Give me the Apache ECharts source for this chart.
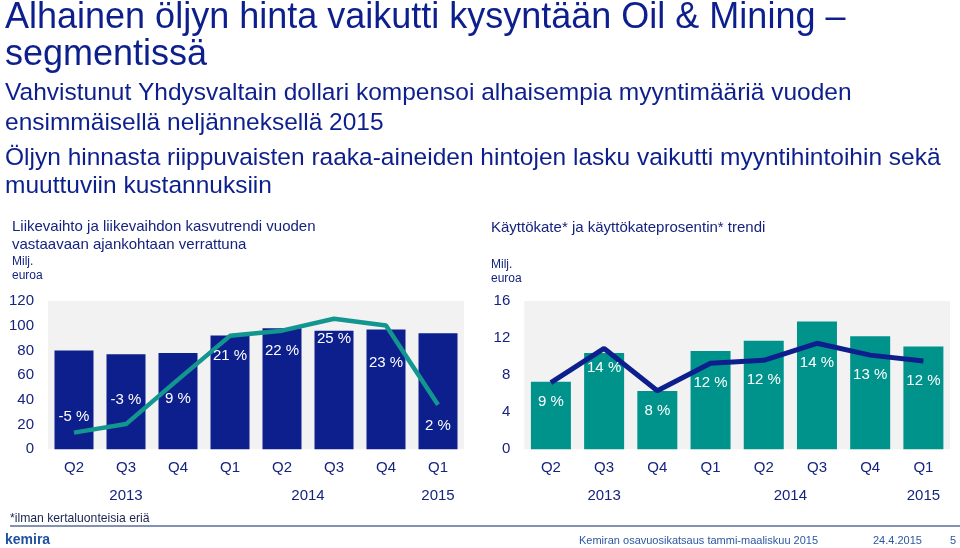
<!DOCTYPE html>
<html>
<head>
<meta charset="utf-8">
<script src="https://cdn.jsdelivr.net/npm/echarts@6/dist/echarts.min.js"></script>
<style>
html,body{margin:0;padding:0;background:#fff;}
#chart{width:960px;height:548px;}
</style>
</head>
<body>
<div id="chart"></div>
<script>
// ---- data ----
const quarters = ['Q2', 'Q3', 'Q4', 'Q1', 'Q2', 'Q3', 'Q4', 'Q1'];
const yearLabels = ['2013', '2014', '2015'];
const yearSpans = [[1, 1], [3, 6], [7, 7]]; // first/last quarter index each year label is centred under
const revenueTicks = [0, 120, 20];   // min, max, step (Milj. euroa)
const ebitdaTicks = [0, 16, 4];
const revenue = [80, 77, 78, 92, 98, 96, 97, 94];
const revenueGrowth = [-5.5, -3.2, 8.8, 20.6, 22.0, 25.2, 23.4, 2.0];
const revenueGrowthLabels = ['-5 %', '-3 %', '9 %', '21 %', '22 %', '25 %', '23 %', '2 %'];
const ebitda = [7.3, 10.4, 6.3, 10.6, 11.7, 13.8, 12.2, 11.1];
const ebitdaMargin = [9.0, 13.6, 7.9, 11.6, 12.0, 14.3, 12.7, 11.9];
const ebitdaMarginLabels = ['9 %', '14 %', '8 %', '12 %', '12 %', '14 %', '13 %', '12 %'];

// ---- styling ----
const NAVY = '#0d1f8c';
const TEAL = '#12968f';
const TEXT = '#16237e';
const FONT = '"Liberation Sans", Arial, Helvetica, sans-serif';
const leftLabelPos = ['top', 'top', 'bottom', 'bottom', 'bottom', 'bottom', 'bottom', 'bottom'];
const leftLabelDist = [8, 16, 12, 12, 12, 12, 30, 13];

const chart = echarts.init(document.getElementById('chart'), null, {renderer: 'canvas'});

function yearFormatter(v) {
  for (let i = 0; i < yearSpans.length; i++) {
    const c = (yearSpans[i][0] + yearSpans[i][1]) / 2 + 0.5;
    if (Math.abs(v - c) < 1e-6) return yearLabels[i];
  }
  return '';
}

function catAxis(grid) {
  return {
    type: 'category', gridIndex: grid, data: quarters,
    axisLine: {show: false}, axisTick: {show: false},
    axisLabel: {fontSize: 15, color: TEXT, margin: 11, fontFamily: FONT},
    splitLine: {show: false}
  };
}
function yearAxis(grid) {
  return {
    type: 'value', gridIndex: grid, min: 0, max: quarters.length, interval: 0.5,
    position: 'bottom', offset: 28,
    axisLine: {show: false}, axisTick: {show: false}, splitLine: {show: false},
    axisLabel: {fontSize: 15, color: TEXT, margin: 11, fontFamily: FONT, formatter: yearFormatter,
      showMinLabel: true, showMaxLabel: true}
  };
}
function valAxis(grid, t, show) {
  return {
    type: 'value', gridIndex: grid, min: t[0], max: t[1], interval: t[2], show: show !== false,
    axisLine: {show: false}, axisTick: {show: false}, splitLine: {show: false},
    axisLabel: {fontSize: 15, color: TEXT, margin: 14, fontFamily: FONT}
  };
}

const textEls = [
  {x: 5, y: 18, text: 'Alhainen öljyn hinta vaikutti kysyntään Oil & Mining –', size: 36, color: NAVY},
  {x: 5, y: 55, text: 'segmentissä', size: 36, color: NAVY},
  {x: 5, y: 93.5, text: 'Vahvistunut Yhdysvaltain dollari kompensoi alhaisempia myyntimääriä vuoden', size: 24.5, color: NAVY},
  {x: 5, y: 123, text: 'ensimmäisellä neljänneksellä 2015', size: 24.5, color: NAVY},
  {x: 5, y: 158, text: 'Öljyn hinnasta riippuvaisten raaka-aineiden hintojen lasku vaikutti myyntihintoihin sekä', size: 24.5, color: NAVY},
  {x: 5, y: 186.5, text: 'muuttuviin kustannuksiin', size: 24.5, color: NAVY},
  {x: 12, y: 227, text: 'Liikevaihto ja liikevaihdon kasvutrendi vuoden', size: 15, color: TEXT},
  {x: 12, y: 245, text: 'vastaavaan ajankohtaan verrattuna', size: 15, color: TEXT},
  {x: 12, y: 262, text: 'Milj.', size: 12, color: TEXT},
  {x: 12, y: 276, text: 'euroa', size: 12, color: TEXT},
  {x: 491, y: 228, text: 'Käyttökate* ja käyttökateprosentin* trendi', size: 15, color: TEXT},
  {x: 491, y: 265, text: 'Milj.', size: 12, color: TEXT},
  {x: 491, y: 279, text: 'euroa', size: 12, color: TEXT},
  {x: 10, y: 519, text: '*ilman kertaluonteisia eriä', size: 12.2, color: '#1c2450'},
  {x: 579, y: 540.5, text: 'Kemiran osavuosikatsaus tammi-maaliskuu 2015', size: 11, color: '#2c57a3'},
  {x: 873, y: 540.5, text: '24.4.2015', size: 11, color: '#2c57a3'},
  {x: 950, y: 540.5, text: '5', size: 11, color: '#2c57a3'}
];

const graphic = textEls.map(t => ({
  type: 'text', x: t.x, y: t.y, silent: true,
  style: {text: t.text, fill: t.color, font: t.size + 'px ' + FONT, verticalAlign: 'middle'}
}));
graphic.push({
  type: 'line', silent: true,
  shape: {x1: 10, y1: 526, x2: 960, y2: 526},
  style: {stroke: '#5a6d98', lineWidth: 1.5}
});
graphic.push({
  type: 'text', x: 5, y: 540.5, silent: true,
  style: {text: 'kemira', fill: '#1f50a3', font: 'bold 14px ' + FONT, verticalAlign: 'middle'}
});

const option = {
  backgroundColor: '#ffffff',
  animation: false,
  textStyle: {fontFamily: FONT},
  graphic: graphic,
  grid: [
    {left: 48, right: 496, top: 301, bottom: 98.7, show: true, backgroundColor: '#f2f2f2', borderWidth: 0},
    {left: 524.3, right: 10, top: 301, bottom: 98.7, show: true, backgroundColor: '#f2f2f2', borderWidth: 0}
  ],
  xAxis: [catAxis(0), yearAxis(0), catAxis(1), yearAxis(1)],
  yAxis: [
    valAxis(0, revenueTicks),
    valAxis(0, [-10, 30, 10], false),
    valAxis(1, ebitdaTicks),
    valAxis(1, [0, 20, 5], false)
  ],
  series: [
    {
      type: 'bar', xAxisIndex: 0, yAxisIndex: 0, data: revenue, barWidth: 39,
      itemStyle: {color: NAVY}, z: 2
    },
    {
      type: 'line', xAxisIndex: 0, yAxisIndex: 1, z: 3,
      data: revenueGrowth.map((v, i) => ({value: v, label: {position: leftLabelPos[i], distance: leftLabelDist[i]}})),
      symbol: 'circle', symbolSize: 0.5, showSymbol: true,
      itemStyle: {color: TEAL},
      lineStyle: {color: TEAL, width: 4.5},
      label: {show: true, color: '#ffffff', fontSize: 15, fontFamily: FONT,
        formatter: p => revenueGrowthLabels[p.dataIndex]}
    },
    {
      type: 'bar', xAxisIndex: 2, yAxisIndex: 2, data: ebitda, barWidth: 40,
      itemStyle: {color: '#00938c'}, z: 2
    },
    {
      type: 'line', xAxisIndex: 2, yAxisIndex: 3, z: 3,
      data: ebitdaMargin,
      symbol: 'circle', symbolSize: 0.5, showSymbol: true,
      itemStyle: {color: NAVY},
      lineStyle: {color: NAVY, width: 5},
      label: {show: true, position: 'bottom', distance: 12, color: '#ffffff', fontSize: 15, fontFamily: FONT,
        formatter: p => ebitdaMarginLabels[p.dataIndex]}
    }
  ]
};
chart.setOption(option);
</script>
</body>
</html>
